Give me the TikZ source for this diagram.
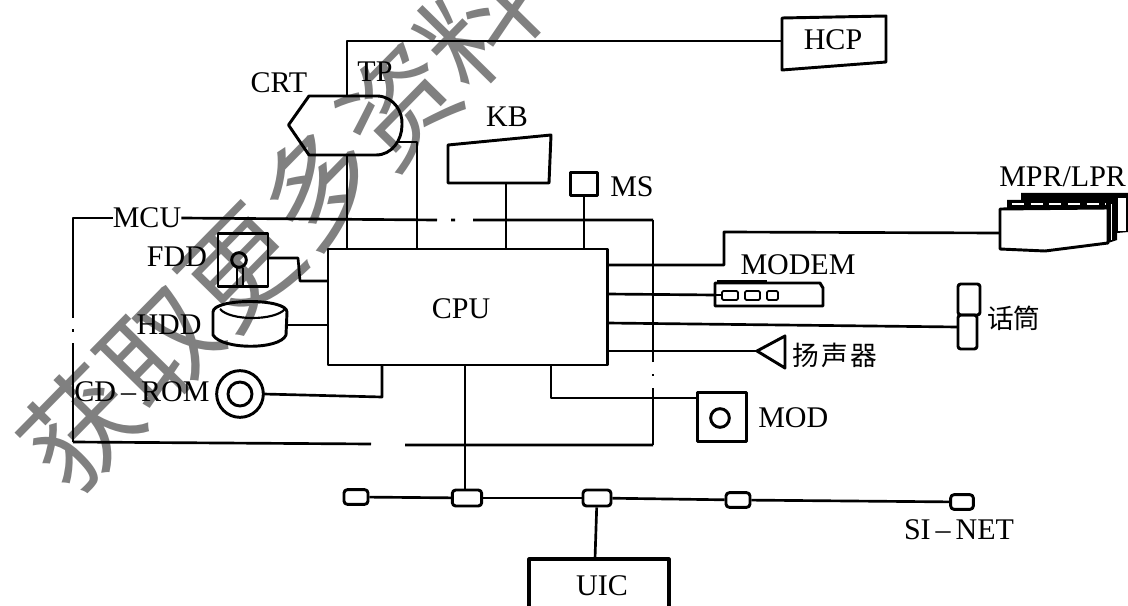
\documentclass[tikz,border=0pt]{standalone}
\usepackage{fontspec}
\setmainfont{Liberation Serif}
\newfontfamily\cjk{Noto Sans CJK SC}
\begin{document}
\begin{tikzpicture}[x=0.75pt,y=-0.75pt,line join=round,
  wire/.style={line width=2pt},
  thinwire/.style={line width=1.5pt},
  shapeline/.style={line width=2.2pt},
  lab/.style={font=\fontsize{22.5}{24}\selectfont,inner sep=0pt},
  cjklab/.style={font=\cjk\fontsize{20}{22}\selectfont,inner sep=0pt},
  tap/.style={draw,line width=2.2pt,rounded corners=2.5pt,fill=white,inner sep=0pt},
  hitbox/.style={inner sep=0pt,outer sep=0pt}]
\useasboundingbox (0,0) rectangle (1128,606);
\fill[white] (0,0) rectangle (1128,606);
% watermark (behind the drawing)
\node[font=\cjk\fontsize{85}{90}\selectfont,text=black!50,rotate=45.5,inner sep=0pt] (wm) at (279,226) {获取更多资料};
% main boxes
\node[draw,shapeline,hitbox,minimum width=209.3pt,minimum height=87pt] (cpu) at (467.5,307) {};
\node[lab] (cpulab) at (461,309) {CPU};
% CRT
\draw[shapeline] (288.5,125) -- (309,96) -- (378,96) .. controls (394,97) and (403,112) .. (402,125) .. controls (402,140) and (392,155) .. (376,155) -- (309,155) -- cycle;
\coordinate (crtt) at (347,96);
\coordinate (crtb) at (347,155);
\coordinate (crtr) at (396,142);
\node[lab] (crtlab) at (279,83) {CRT};
\node[lab] (tplab) at (375,72) {TP};
% HCP
\draw[shapeline] (782,18) -- (886,16) -- (886,62) -- (782,70) -- cycle;
\coordinate (hcpl) at (782,41);
\node[lab] (hcplab) at (833,40) {HCP};
% KB
\draw[shapeline] (448,145) -- (551,135) -- (549,183) -- (448,183) -- cycle;
\coordinate (kbb) at (506,183);
\node[lab] (kblab) at (507,117) {KB};
% MS
\node[draw,shapeline,hitbox,minimum width=20pt,minimum height=17pt] (ms) at (584,184) {};
\node[lab,anchor=west] (mslab) at (610,187) {MS};
% MCU
\node[lab] (mcu) at (147,218) {MCU};
\coordinate (busa) at (73,218);
\coordinate (busb) at (73,442);
\coordinate (busc) at (653,445);
\coordinate (busd) at (653,220);
% FDD
\node[draw,shapeline,hitbox,minimum width=37.5pt,minimum height=40pt] (fdd) at (243,260) {};
\node[draw,shapeline,circle,hitbox,minimum size=11pt] (fddc) at (239,260) {};
\draw[line width=1.4pt] (237,268) -- (237,285) (243,268) -- (243,285);
\node[lab] (fddlab) at (177,257) {FDD};
% HDD
\draw[shapeline] (213,312) .. controls (213,298) and (287,298) .. (287,312) -- (286,335) .. controls (280,350) and (222,350) .. (213,335) -- cycle;
\draw[line width=1.6pt] (220,309) .. controls (230,321) and (275,321) .. (285,309);
\coordinate (hddr) at (287,325);
\node[lab] (hddlab) at (169,325) {HDD};
% CD-ROM
\node[draw,shapeline,circle,hitbox,minimum size=35pt] (cd) at (240,394) {};
\node[draw,shapeline,circle,hitbox,minimum size=18pt] (cdi) at (240,394) {};
\node[lab] (cdlab) at (142,392) {CD\,--\,ROM};
% MOD
\node[draw,shapeline,hitbox,minimum width=37pt,minimum height=37pt] (mod) at (722,417) {};
\node[draw,shapeline,circle,hitbox,minimum size=14pt] (modc) at (720,418) {};
\node[lab,anchor=west] (modlab) at (758,418) {MOD};
% MPR
\fill (1007,208) -- (1007,200) -- (1021,200) -- (1021,193) -- (1128,193) -- (1128,232) -- (1117,233) -- (1117,240) -- (1108,243) -- cycle;
\fill[white] (1118,198) rectangle (1126,231);
\draw[white,line width=1.5pt,dash pattern=on 9pt off 5pt] (1012,204) -- (1106,204);
\draw[shapeline,fill=white] (1000,209) -- (1108,208) -- (1108,226) -- (1108,243) -- (1045,251) -- (1000,249) -- cycle;
\fill[white] (1110.5,204) rectangle (1112,240);
\coordinate (mprl) at (1000,233);
\node[lab,anchor=west] (mprlab) at (999,177) {MPR/LPR};
% MODEM
\draw[shapeline] (715,283) -- (820,283) -- (823,288) -- (823,306) -- (715,306) -- cycle;
\draw[line width=3pt] (717,282) -- (767,282);
\draw[line width=1.4pt,rounded corners=1pt] (722,291) rectangle (738,300) (745,291) rectangle (760,300) (767,291) rectangle (778,300);
\draw[line width=1.4pt] (716,295) -- (722,295);
\coordinate (modeml) at (715,295);
\node[lab] (modemlab) at (798,265) {MODEM};
% mic
\draw[shapeline,rounded corners=2pt] (958,284) rectangle (980,315);
\draw[shapeline,rounded corners=2pt] (958,315) rectangle (977,349);
\coordinate (micl) at (958,327);
\node[cjklab,anchor=west] (miclab) at (987,318) {话筒};
% speaker
\draw[shapeline] (757,351) -- (785,336) -- (785,368) -- cycle;
\coordinate (spkl) at (757,351);
\node[cjklab,anchor=west] (spklab) at (792,355) {扬\hspace{2pt}声\hspace{2pt}器};
% UIC
\draw[line width=2.4pt] (529,606) -- (529,559) -- (669,559) -- (669,606);
\coordinate (uict) at (595,559);
\node[lab] (uic) at (602,586) {UIC};
% connectors
\draw[wire] (crtt) -- (crtt |- hcpl) -- (hcpl);
\draw[wire] (crtb) -- (crtb |- cpu.north);
\draw[wire] (crtr) -- (417,142) -- (417,249);
\draw[wire] (kbb) -- (kbb |- cpu.north);
\draw[wire] (ms.south) -- (ms.south |- cpu.north);
\draw[thinwire] (mcu.west) -- (busa) -- (73,318) (73,329) -- (73,332) (73,343) -- (busb);
\draw[wire] (busb) -- (371,444) (405,445) -- (busc);
\draw[thinwire] (busc) -- (653,388) (653,374) -- (653,376) (653,362) -- (busd);
\draw[wire] (mcu.east) -- (437,220) (451,220) -- (455,220) (473,220) -- (busd);
\draw[wire] (fdd.east |- 0,258) -- (298,258) -- (300,281) -- (300,281 -| cpu.west);
\draw[wire] (hddr) -- (hddr -| cpu.west);
\draw[wire] (cd.east) -- (382,397) -- (382,397 |- cpu.south);
\draw[wire] (607,265) -- (724,265) -- (724,232) -- (mprl);
\draw[wire] (607,294) -- (modeml);
\draw[wire] (607,323) -- (micl);
\draw[wire] (607,351) -- (spkl);
\draw[wire] (551,365) -- (551,398) -- (mod.west |- 0,398);
\draw[wire] (465,365) -- (465,490);
% SI-NET
\node[tap,minimum width=18pt,minimum height=11pt] (t1) at (356,497) {};
\node[tap,minimum width=22pt,minimum height=12pt] (t2) at (467,498) {};
\node[tap,minimum width=21pt,minimum height=12pt] (t3) at (597,498) {};
\node[tap,minimum width=18pt,minimum height=11pt] (t4) at (738,500) {};
\node[tap,minimum width=17pt,minimum height=11pt] (t5) at (962,502) {};
\draw[wire] (t1) -- (t2);
\draw[wire] (t2) -- (t3);
\draw[wire] (t3) -- (t4);
\draw[wire] (t4) -- (t5);
\draw[wire] (t3) -- (uict);
\node[lab] (sinet) at (959,530) {SI\,--\,NET};
\end{tikzpicture}
\end{document}
